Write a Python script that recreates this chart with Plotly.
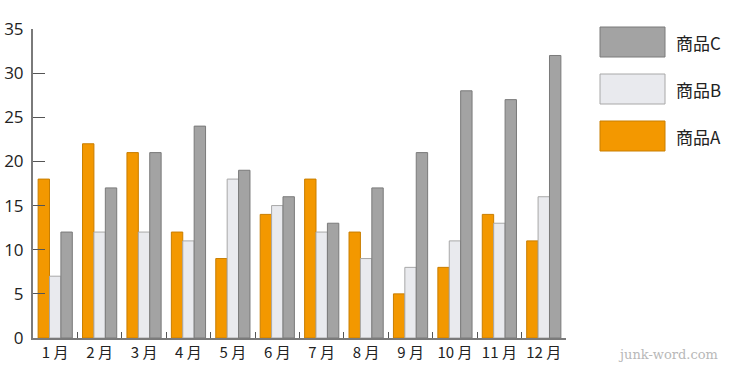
import plotly.graph_objects as go

months = ["1 月", "2 月", "3 月", "4 月", "5 月", "6 月", "7 月", "8 月", "9 月", "10 月", "11 月", "12 月"]
product_a = [18, 22, 21, 12, 9, 14, 18, 12, 5, 8, 14, 11]
product_b = [7, 12, 12, 11, 18, 15, 12, 9, 8, 11, 13, 16]
product_c = [12, 17, 21, 24, 19, 16, 13, 17, 21, 28, 27, 32]
series_names = ["商品A", "商品B", "商品C"]
fills = ["#F39800", "#E9EAEE", "#A3A3A3"]
borders = ["#C97E00", "#A8A8A8", "#7A7A7A"]

W, H = 736, 373
L, R, T, B = 33, 170, 29, 35
PW, PH = W - L - R, H - T - B

fig = go.Figure()
for name, vals, fc, bc in zip(series_names, [product_a, product_b, product_c], fills, borders):
    fig.add_trace(go.Bar(x=months, y=vals, name=name, marker=dict(color=fc, line=dict(color=bc, width=1)),
                         showlegend=False))

def px(x):
    return (x - L) / PW

def py(y):
    return 1 - (y - T) / PH

shapes = []
annotations = []
legend_items = [("商品C", 2, 27), ("商品B", 1, 74), ("商品A", 0, 121)]
for label, idx, top in legend_items:
    shapes.append(dict(type="rect", xref="paper", yref="paper", x0=px(600), x1=px(665), y0=py(top + 30), y1=py(top),
                       fillcolor=fills[idx], line=dict(color=borders[idx], width=1)))
    annotations.append(dict(xref="paper", yref="paper", x=px(674), y=py(top + 15), text=label, showarrow=False,
                            xanchor="left", yanchor="middle", font=dict(size=17, color="#222", family="Noto Sans CJK JP")))

annotations.append(dict(xref="paper", yref="paper", x=px(720), y=py(355), text="junk-word.com", showarrow=False,
                        xanchor="right", yanchor="middle", font=dict(size=13, color="#B8B8B8", family="DejaVu Serif")))

fig.update_layout(
    width=W, height=H,
    margin=dict(l=L, r=R, t=T, b=B),
    paper_bgcolor="white", plot_bgcolor="white",
    barmode="group", bargap=0.23, bargroupgap=0,
    font=dict(family="Noto Sans CJK JP", size=17, color="#222"),
    shapes=shapes, annotations=annotations,
    xaxis=dict(showgrid=False, showline=True, linecolor="#7A7A7A", linewidth=2, ticks="inside",
               tickson="boundaries", ticklen=6, tickcolor="#555", tickwidth=1, tickfont=dict(size=15),
               tickangle=0, automargin=False),
    yaxis=dict(range=[0, 35], dtick=5, showgrid=False, showline=True, linecolor="#7A7A7A", linewidth=2,
               ticks="inside", ticklen=12, tickcolor="#555", tickwidth=1, zeroline=False,
               tickfont=dict(size=17, family="Open Sans"), ticklabelstandoff=4, automargin=False),
)
fig.write_html("out.html")
